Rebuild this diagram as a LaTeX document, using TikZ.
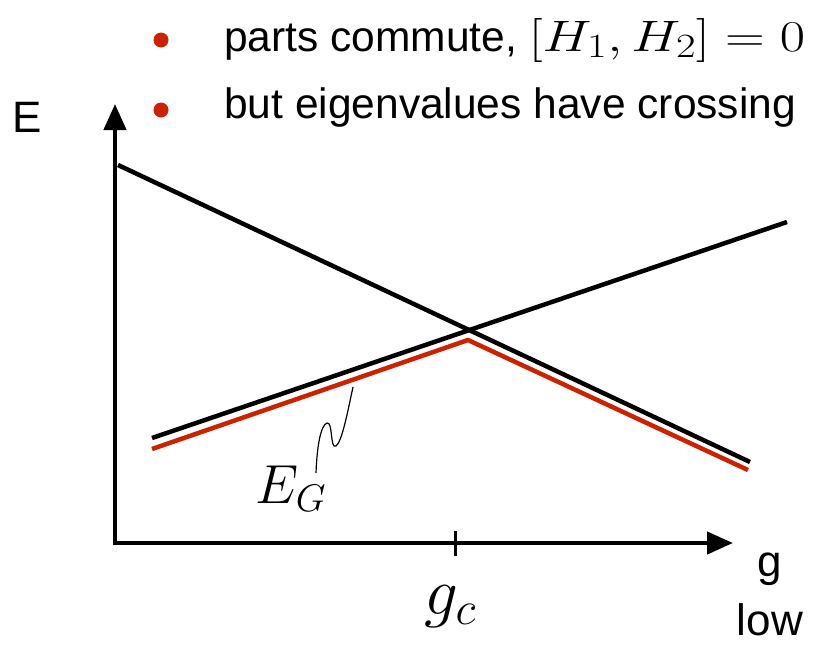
\RequirePackage{fix-cm}
\documentclass[tikz,border=0pt]{standalone}
\usepackage{graphicx}
\usepackage{fontspec}
\setmainfont{Liberation Sans}
\usetikzlibrary{arrows.meta}
\DeclareMathSizes{44}{44}{34}{26}
\definecolor{myred}{RGB}{204,34,0}
\begin{document}
\begin{tikzpicture}[x=1pt,y=-1pt,
  axis/.style={line width=4.5pt,-{Triangle[length=26pt,width=22pt]}},
  blk/.style={line width=4.5pt,black},
  rd/.style={line width=4.5pt,myred,line join=round},
  lbl/.style={font=\fontsize{42.5}{48}\selectfont,inner sep=0pt},
  albl/.style={font=\fontsize{44}{50}\selectfont,inner sep=0pt},
  dot/.style={circle,fill=myred,minimum size=15pt,inner sep=0pt}]
\useasboundingbox (0,0) rectangle (816,646);
% axes
\coordinate (O) at (115,543);
\coordinate (ytip) at (115,104);
\coordinate (xtip) at (733,543);
\draw[axis] (115,545.25) -- (ytip);
\draw[axis] (112.75,543) -- (xtip);
\coordinate (t1) at (455,531);
\coordinate (t2) at (455,556);
\draw[line width=3pt] (t1) -- (t2);
% lines
\coordinate (a1) at (118,165);
\coordinate (a2) at (750,462);
\coordinate (b1) at (152,438);
\coordinate (b2) at (787,222);
\coordinate (r1) at (152,449);
\coordinate (rm) at (468,340);
\coordinate (r2) at (748,470);
\draw[rd] (r1) -- (rm) -- (r2);
\draw[blk] (a1) -- (a2);
\draw[blk] (b1) -- (b2);
% squiggle
\coordinate (s0) at (316,473);
\coordinate (s1) at (353,387);
\draw[line width=1.2pt] (s0) .. controls (317,445) and (321,425) .. (327,423)
  .. controls (333,421) and (330,450) .. (336,446)
  .. controls (342,442) and (348,410) .. (s1);
% labels
\node[inner sep=0pt,font=\fontsize{55}{60}\selectfont] (EG) at (291,489) {$E_G$};
\node[inner sep=0pt,font=\fontsize{67}{72}\selectfont] (gc) at (450,607) {$g_c$};
\node[albl] (E) at (27,117) {E};
\node[albl] (g) at (770,569) {g};
\node[albl] (low) at (770,620) {low};
% bullets
\node[dot] (d1) at (161,40) {};
\node[dot] (d2) at (161,110) {};
\node[lbl,anchor=west] (l1) at (224,40) {parts commute, {\fontsize{44}{50}\selectfont\scalebox{1.25}[1]{$[H_1,H_2]=0$}}};
\node[lbl,anchor=west] (l2) at (224,108) {but eigenvalues have crossing};
\end{tikzpicture}
\end{document}
